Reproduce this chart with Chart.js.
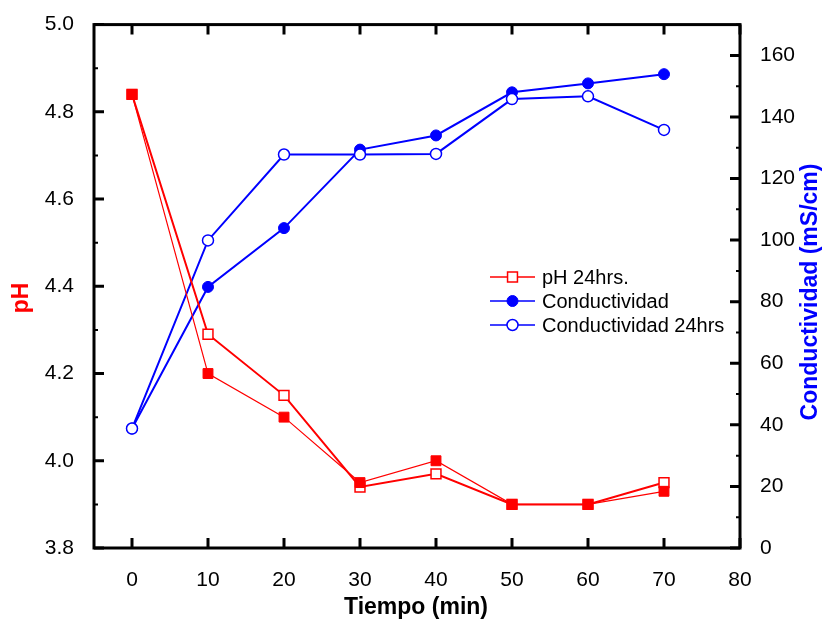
<!DOCTYPE html>
<html>
<head>
<meta charset="utf-8">
<script src="https://cdn.jsdelivr.net/npm/chart.js@4.4.1/dist/chart.umd.min.js"></script>
<style>
  html, body { margin: 0; padding: 0; background: #fff; }
  canvas { display: block; }
</style>
</head>
<body>
<canvas id="myChart" width="824" height="626"></canvas>
<script>
// data
const tiempo = [0, 10, 20, 30, 40, 50, 60, 70];
const ph = [4.84, 4.20, 4.10, 3.95, 4.00, 3.90, 3.90, 3.93];
const ph24 = [4.84, 4.29, 4.15, 3.94, 3.97, 3.90, 3.90, 3.95];
const conductividad = [38.8, 84.8, 103.9, 129.4, 134.0, 148.0, 150.9, 153.9];
const conductividad24 = [38.8, 99.9, 127.8, 127.8, 128.0, 145.8, 146.7, 135.8];

const xTicks = [0, 10, 20, 30, 40, 50, 60, 70, 80];
const phTicks = [3.8, 4.0, 4.2, 4.4, 4.6, 4.8, 5.0];
const condTicks = [0, 20, 40, 60, 80, 100, 120, 140, 160];

const RED = '#ff0000';
const BLUE = '#0000ff';
const FONT = '"Liberation Sans", Arial, sans-serif';

const pts = (ys) => tiempo.map((t, i) => ({ x: t, y: ys[i] }));

const ctx = document.getElementById('myChart');

// frame with inward ticks, titles and legend
const decor = {
    id: 'decor',
    afterDatasetsDraw(chart) {
        const c = chart.ctx;
        const a = chart.chartArea;
        const sx = chart.scales.x, sy = chart.scales.y, sy1 = chart.scales.y1;
        c.save();
        c.strokeStyle = '#000';
        c.lineWidth = 3;
        c.strokeRect(a.left, a.top, a.right - a.left, a.bottom - a.top);
        c.beginPath();
        xTicks.forEach(v => {
            const px = sx.getPixelForValue(v);
            c.moveTo(px, a.bottom); c.lineTo(px, a.bottom - 10);
            c.moveTo(px, a.top); c.lineTo(px, a.top + 10);
        });
        phTicks.forEach(v => {
            const py = sy.getPixelForValue(v);
            c.moveTo(a.left, py); c.lineTo(a.left + 10, py);
        });
        condTicks.forEach(v => {
            const py = sy1.getPixelForValue(v);
            c.moveTo(a.right, py); c.lineTo(a.right - 10, py);
        });
        c.stroke();
        c.lineWidth = 2;
        c.beginPath();
        for (let i = 0; i < phTicks.length - 1; i++) {
            const py = sy.getPixelForValue((phTicks[i] + phTicks[i + 1]) / 2);
            c.moveTo(a.left, py); c.lineTo(a.left + 4, py);
        }
        for (let i = 0; i < condTicks.length; i++) {
            const py = sy1.getPixelForValue(condTicks[i] + 10);
            if (py < a.top) continue;
            c.moveTo(a.right, py); c.lineTo(a.right - 4, py);
        }
        c.stroke();
        c.restore();
    },
    afterDraw(chart) {
        const c = chart.ctx;
        c.save();
        // axis titles
        c.font = 'bold 23px ' + FONT;
        c.textAlign = 'center';
        c.textBaseline = 'middle';
        c.fillStyle = '#000';
        c.fillText('Tiempo (min)', 416, 608);

        c.save();
        c.translate(22, 298);
        c.rotate(-Math.PI / 2);
        c.fillStyle = RED;
        c.fillText('pH', 0, 0);
        c.restore();

        c.save();
        c.translate(811, 292);
        c.rotate(-Math.PI / 2);
        c.fillStyle = BLUE;
        c.fillText('Conductividad (mS/cm)', 0, 0);
        c.restore();

        // legend (filled pH series is not listed)
        const items = [1, 3, 2];
        items.forEach((di, k) => {
            const ds = chart.data.datasets[di];
            const y = 277 + k * 24;
            c.strokeStyle = ds.borderColor;
            c.lineWidth = 1.5;
            c.beginPath();
            c.moveTo(490, y); c.lineTo(535, y);
            c.stroke();
            c.fillStyle = ds.pointBackgroundColor;
            c.strokeStyle = ds.pointBorderColor;
            c.lineWidth = ds.pointBorderWidth;
            Chart.helpers.drawPoint(c, {
                pointStyle: ds.pointStyle,
                radius: ds.pointRadius,
                rotation: 0,
                borderWidth: ds.pointBorderWidth
            }, 512.5, y);
            c.fillStyle = '#000';
            c.font = '20px ' + FONT;
            c.textAlign = 'left';
            c.fillText(ds.label, 542, y + 1);
        });
        c.restore();
    }
};

new Chart(ctx, {
    type: 'line',
    data: {
        datasets: [{
            label: 'pH',
            data: pts(ph),
            yAxisID: 'y',
            borderColor: RED,
            borderWidth: 1.2,
            pointStyle: 'rect',
            pointRadius: 7,
            pointBackgroundColor: RED,
            pointBorderColor: RED,
            pointBorderWidth: 1
        },
        {
            label: 'pH 24hrs.',
            data: pts(ph24),
            yAxisID: 'y',
            borderColor: RED,
            borderWidth: 2,
            pointStyle: 'rect',
            pointRadius: 7,
            pointBackgroundColor: '#fff',
            pointBorderColor: RED,
            pointBorderWidth: 1.5
        },
        {
            label: 'Conductividad 24hrs',
            data: pts(conductividad24),
            yAxisID: 'y1',
            borderColor: BLUE,
            borderWidth: 2,
            pointStyle: 'circle',
            pointRadius: 5.5,
            pointBackgroundColor: '#fff',
            pointBorderColor: BLUE,
            pointBorderWidth: 1.5
        },
        {
            label: 'Conductividad',
            data: pts(conductividad),
            yAxisID: 'y1',
            borderColor: BLUE,
            borderWidth: 2,
            pointStyle: 'circle',
            pointRadius: 5.5,
            pointBackgroundColor: BLUE,
            pointBorderColor: BLUE,
            pointBorderWidth: 1
        }]
    },
    options: {
        responsive: false,
        animation: false,
        devicePixelRatio: 1,
        layout: { padding: { top: 20, left: 0, right: 0, bottom: 0 } },
        plugins: {
            legend: { display: false },
            tooltip: { enabled: false }
        },
        scales: {
            x: {
                type: 'linear',
                position: 'bottom',
                min: -5,
                max: 80,
                grid: { display: false },
                border: { display: false },
                afterBuildTicks: (s) => { s.ticks = xTicks.map(v => ({ value: v })); },
                afterFit: (s) => { s.height = 78; },
                ticks: {
                    padding: 12,
                    color: '#000',
                    font: { family: FONT, size: 21 },
                    maxRotation: 0
                }
            },
            y: {
                type: 'linear',
                position: 'left',
                min: 3.8,
                max: 5.0,
                grid: { display: false },
                border: { display: false },
                afterBuildTicks: (s) => { s.ticks = phTicks.map(v => ({ value: v })); },
                afterFit: (s) => { s.width = 94; },
                ticks: {
                    padding: 12,
                    color: '#000',
                    font: { family: FONT, size: 21 },
                    callback: (v) => Number(v).toFixed(1)
                }
            },
            y1: {
                type: 'linear',
                position: 'right',
                min: 0,
                max: 170,
                grid: { display: false },
                border: { display: false },
                afterBuildTicks: (s) => { s.ticks = condTicks.map(v => ({ value: v })); },
                afterFit: (s) => { s.width = 84; },
                ticks: {
                    padding: 12,
                    color: '#000',
                    font: { family: FONT, size: 21 }
                }
            }
        }
    },
    plugins: [decor]
});
</script>
</body>
</html>
